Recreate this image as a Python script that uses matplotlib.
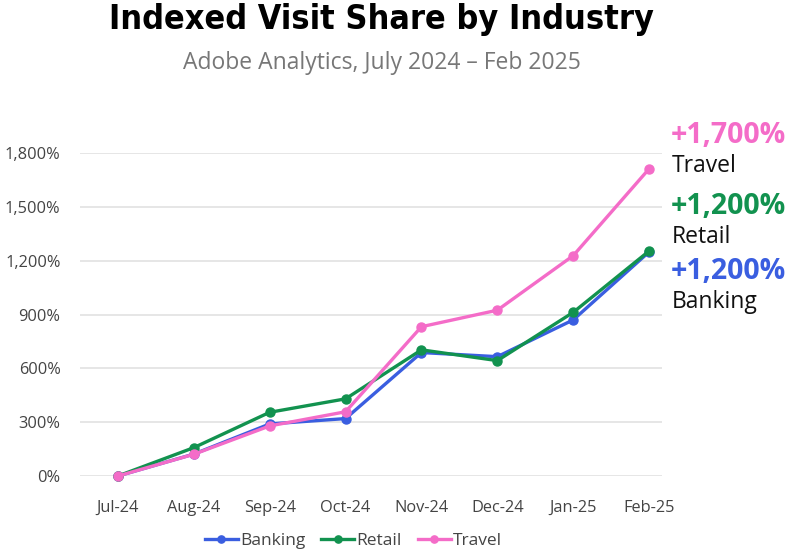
import matplotlib
matplotlib.use("Agg")
import matplotlib.pyplot as plt
from matplotlib.ticker import FuncFormatter

months = ["Jul-24", "Aug-24", "Sep-24", "Oct-24", "Nov-24", "Dec-24", "Jan-25", "Feb-25"]
banking = [0, 122, 290, 320, 688, 665, 870, 1249]
retail = [0, 158, 355, 430, 703, 643, 912, 1254]
travel = [0, 121, 279, 358, 832, 924, 1228, 1712]
series_names = ["Banking", "Retail", "Travel"]
colors = ["#3a5ee0", "#12924f", "#f46cc8"]
end_labels = ["+1,200%", "+1,200%", "+1,700%"]
yticks = [0, 300, 600, 900, 1200, 1500, 1800]

plt.rcParams['font.family'] = ['Open Sans', 'DejaVu Sans']

fig = plt.figure(figsize=(8, 5.56), dpi=100)
ax = fig.add_axes([0.1, 0.1439, 0.7275, 0.5809])

x = list(range(len(months)))
for vals, name, c in zip([banking, retail, travel], series_names, colors):
    ax.plot(x, vals, color=c, lw=2.4, marker='o', ms=6.5, label=name, clip_on=False, zorder=3)

ax.set_xlim(-0.5, 7.17)
ax.set_ylim(0, 1800)
ax.set_yticks(yticks)
ax.yaxis.set_major_formatter(FuncFormatter(lambda v, p: f"{int(v):,}%"))
ax.set_xticks(x)
ax.set_xticklabels(months)
ax.grid(axis='y', color='#e2e2e2', lw=1.2)
ax.set_axisbelow(True)
for s in ax.spines.values():
    s.set_visible(False)
ax.tick_params(axis='both', length=0, labelsize=11.8, labelcolor='#444444')
ax.tick_params(axis='x', pad=17)
ax.tick_params(axis='y', pad=14)

fig.text(0.477, 0.965, "Indexed Visit Share by Industry", ha='center', va='center',
         fontsize=24.5, fontweight='bold', fontstretch='condensed',
         family=['DejaVu Sans'], color='#000000')
fig.text(0.477, 0.887, "Adobe Analytics, July 2024 \u2013 Feb 2025", ha='center', va='center',
         fontsize=16.5, color='#777777')

# end annotations
ann = [(end_labels[2], colors[2], 0.757), ("Travel", '#111111', 0.701),
       (end_labels[1], colors[1], 0.629), ("Retail", '#111111', 0.574),
       (end_labels[0], colors[0], 0.511), ("Banking", '#111111', 0.457)]
for t, c, yy in ann:
    if t.startswith("+"):
        fig.text(0.838, yy, t, color=c, fontsize=20.5, fontweight='bold', va='center', ha='left')
    else:
        fig.text(0.840, yy, t, color=c, fontsize=16.5, va='center', ha='left')

leg = ax.legend(loc='upper center', bbox_to_anchor=(0.47, -0.128), ncol=3, frameon=False,
                fontsize=12.5, handlelength=1.9, handletextpad=0.15, columnspacing=0.9,
                labelcolor='#444444', markerscale=0.8)

fig.savefig("out.png", dpi=100)
